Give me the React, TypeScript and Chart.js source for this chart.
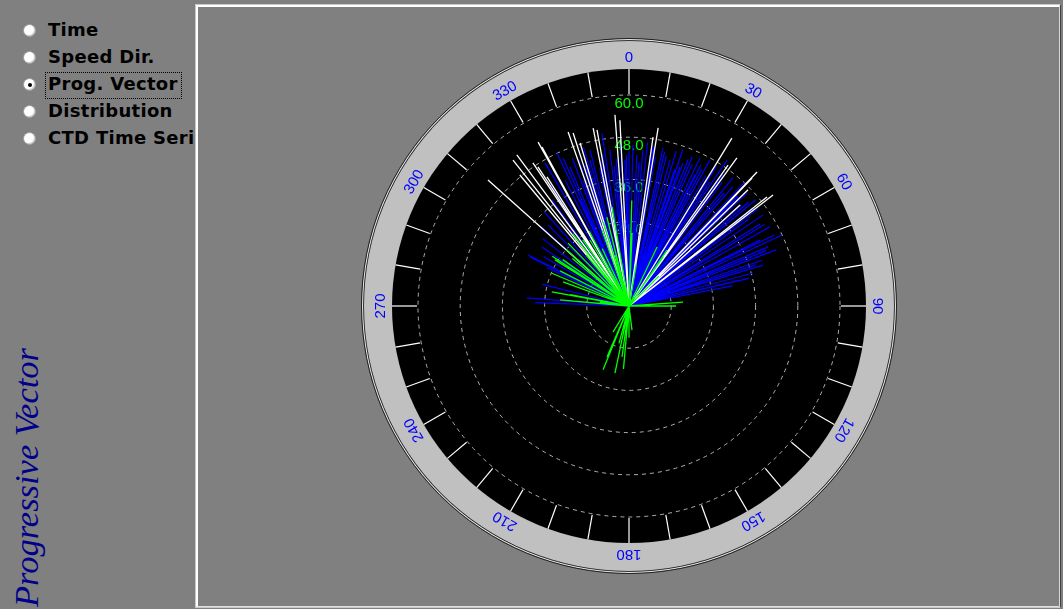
import React, { useEffect, useRef } from "react";
import { Chart, registerables } from "chart.js";

Chart.register(...registerables);

// ---------- data ----------
const compassDirs = [0, 30, 60, 90, 120, 150, 180, 210, 240, 270, 300, 330];
const compassLabels = ["0", "30", "60", "90", "120", "150", "180", "210", "240", "270", "300", "330"];
const radialTicks = [12, 24, 36, 48, 60];
const radialTickLabels = ["12.0", "24.0", "36.0", "48.0", "60.0"];
const radialMax = 75.07;

const whiteDir = [311.8, 321.5, 323.4, 320.2, 326.1, 326.8, 327.6, 331.0, 331.3, 340.7, 342.1, 343.3, 348.6, 349.7, 355.8, 357.2, 9.3, 8.1, 31.5, 36.1, 35.1, 43.7, 43.9, 45.7, 47.7, 52.4, 51.7];
const whiteSpeed = [53.8, 53.0, 53.5, 48.5, 49.0, 47.3, 43.5, 53.3, 51.5, 52.4, 51.7, 48.4, 51.6, 50.9, 54.5, 52.9, 51.3, 48.5, 56.0, 52.1, 49.0, 52.7, 50.5, 47.3, 42.7, 51.7, 50.0];

const blueDir = [274.5, 272, 284, 295, 296.8, 296.3, 300, 304.1, 308, 312, 315, 318, 322.2, 324, 327, 329.6, 331, 333.1, 334.8, 335.2, 337, 339, 340, 342.7, 344, 346, 348, 350, 351.1, 351.1, 353, 355, 357, 358.4, 0, 1.4, 3, 5.1, 6.5, 8.6, 10, 12.1, 14, 15.7, 17, 18.5, 20.1, 20.7, 22, 24, 25.6, 26.7, 28, 29, 30.5, 31.7, 33, 33.9, 35.5, 37, 39, 41, 43, 44.5, 46.2, 48, 50, 52, 54, 55.8, 58, 60.7, 63.3, 65.1, 67, 69.1, 71, 73, 75.1, 76.8, 79,
  336, 341, 345, 349, 354, 359, 4, 9, 13, 19, 23, 27, 32, 36, 40, 45, 49, 53, 59, 64, 68, 72, 77];
const blueSpeed = [29.1, 26.7, 25.4, 25.7, 32.2, 31.4, 28, 29.9, 31, 34, 32.6, 36, 27.4, 37.3, 41, 47.2, 44, 40, 48.1, 33.2, 43, 45, 38, 42, 47, 45.7, 40, 44, 47.8, 49.8, 44.7, 42, 46, 41.5, 44, 45.8, 43, 44.5, 47, 45.7, 43, 46, 44, 43.1, 46, 41, 42.1, 43.5, 45, 44, 46.7, 41.7, 44, 47.5, 43, 45.4, 42, 50, 46, 44, 47, 45, 48, 44, 46.5, 43, 47, 45, 42, 46.1, 44, 46, 41.7, 48, 43, 44.7, 40, 39.8, 36.5, 32.4, 30,
  46, 44, 43, 42, 40, 43, 41, 46, 45, 47, 46, 45, 47, 43, 42, 44, 45, 46, 45, 46, 42, 38, 35];

const greenDir = [315.9, 301.9, 280.3, 275, 281, 290, 297, 305, 310, 320, 325, 329.4, 335, 340.4, 346, 350.3, 345, 1.5, 2.4, 10, 25.4, 34.2, 34.8, 45, 85.8, 90, 277.9, 310, 172.9, 211.6, 187.8, 191.8, 202.1, 203.3, 195, 180,
  293, 303, 312, 322, 332, 343, 185];
const greenSpeed = [24.9, 24.8, 22.3, 19.7, 17, 20, 22, 23, 21, 19, 23, 21.8, 18, 22.9, 26, 28.6, 15, 30, 20.8, 12, 18.6, 19.2, 17, 12, 15.4, 13.4, 8.3, 7.1, 6.9, 8.7, 14.6, 19.5, 19.6, 15.8, 11, 9,
  24, 26, 24, 26, 24, 25, 18];

const radioOptions = ["Time", "Speed Dir.", "Prog. Vector", "Distribution", "CTD Time Series"];
const selectedOption = 2;
const sideTitle = "Progressive Vector";

// ---------- helpers ----------
function vectors(dirs: number[], speeds: number[]) {
  const pts: { x: number; y: number }[] = [];
  dirs.forEach((d, i) => {
    const a = (d * Math.PI) / 180;
    pts.push({ x: 0, y: 0 });
    pts.push({ x: speeds[i] * Math.sin(a), y: speeds[i] * Math.cos(a) });
    pts.push({ x: NaN, y: NaN });
  });
  return pts;
}

const RING_OUTER = 265;
const DISC_R = 237;
const TICK_INNER = 212;
const LABEL_R = 248;

const compassPlugin = {
  id: "compass",
  beforeDatasetsDraw(chart: any) {
    const { ctx } = chart;
    const xs = chart.scales.x;
    const ys = chart.scales.y;
    const cx = xs.getPixelForValue(0);
    const cy = ys.getPixelForValue(0);
    const ppu = xs.getPixelForValue(1) - cx;
    ctx.save();
    // outer ring
    ctx.beginPath();
    ctx.arc(cx, cy, RING_OUTER, 0, Math.PI * 2);
    ctx.fillStyle = "#c0c0c0";
    ctx.fill();
    ctx.lineWidth = 1;
    ctx.strokeStyle = "#303030";
    ctx.beginPath();
    ctx.arc(cx, cy, RING_OUTER + 0.5, 0, Math.PI * 2);
    ctx.stroke();
    ctx.strokeStyle = "#e8e8e8";
    ctx.beginPath();
    ctx.arc(cx, cy, RING_OUTER + 1.5, 0, Math.PI * 2);
    ctx.stroke();
    ctx.strokeStyle = "#202020";
    ctx.beginPath();
    ctx.arc(cx, cy, RING_OUTER + 2.5, 0, Math.PI * 2);
    ctx.stroke();
    // black disc
    ctx.beginPath();
    ctx.arc(cx, cy, DISC_R, 0, Math.PI * 2);
    ctx.fillStyle = "#000000";
    ctx.fill();
    // ticks every 10 degrees
    ctx.strokeStyle = "#ffffff";
    ctx.lineWidth = 1.2;
    for (let d = 0; d < 360; d += 10) {
      const a = (d * Math.PI) / 180;
      ctx.beginPath();
      ctx.moveTo(cx + DISC_R * Math.sin(a), cy - DISC_R * Math.cos(a));
      ctx.lineTo(cx + TICK_INNER * Math.sin(a), cy - TICK_INNER * Math.cos(a));
      ctx.stroke();
    }
    // dashed circles
    ctx.lineWidth = 1;
    ctx.strokeStyle = "#b0b0b0";
    ctx.setLineDash([4, 4]);
    radialTicks.forEach((v) => {
      ctx.beginPath();
      ctx.arc(cx, cy, v * ppu, 0, Math.PI * 2);
      ctx.stroke();
    });
    ctx.setLineDash([]);
    // radial labels
    ctx.fillStyle = "#00ff00";
    ctx.font = '15px "Liberation Sans", Arial, sans-serif';
    ctx.textAlign = "center";
    ctx.textBaseline = "top";
    radialTicks.forEach((v, i) => {
      ctx.fillText(radialTickLabels[i], cx, cy - v * ppu + 1);
    });
    // compass labels
    ctx.fillStyle = "#0000ff";
    ctx.textBaseline = "middle";
    compassDirs.forEach((d, i) => {
      const a = (d * Math.PI) / 180;
      ctx.save();
      ctx.translate(cx + LABEL_R * Math.sin(a), cy - LABEL_R * Math.cos(a));
      ctx.rotate(a);
      ctx.fillText(compassLabels[i], 0, 0);
      ctx.restore();
    });
    ctx.restore();
  },
};

function PolarChart() {
  const ref = useRef<HTMLCanvasElement>(null);
  useEffect(() => {
    if (!ref.current) return;
    const common = {
      showLine: true,
      pointRadius: 0,
      pointHoverRadius: 0,
      spanGaps: false,
      tension: 0,
    };
    const chart = new Chart(ref.current, {
      type: "scatter",
      data: {
        datasets: [
          { ...common, label: "green", data: vectors(greenDir, greenSpeed), borderWidth: 1.3, borderColor: "#00ff00", backgroundColor: "#00ff00" },
          { ...common, label: "white", data: vectors(whiteDir, whiteSpeed), borderWidth: 1.3, borderColor: "#ffffff", backgroundColor: "#ffffff" },
          { ...common, label: "blue", data: vectors(blueDir, blueSpeed), borderWidth: 1.2, borderColor: "#0000ff", backgroundColor: "#0000ff" },
        ],
      },
      options: {
        responsive: false,
        animation: false,
        devicePixelRatio: 1,
        events: [],
        layout: { padding: { left: 365, right: 170, top: 42, bottom: 39 } },
        scales: {
          x: { type: "linear", min: -radialMax, max: radialMax, display: false },
          y: { type: "linear", min: -radialMax, max: radialMax, display: false },
        },
        plugins: { legend: { display: false }, tooltip: { enabled: false } },
      } as any,
      plugins: [compassPlugin],
    } as any);
    return () => chart.destroy();
  }, []);
  return (
    <canvas
      ref={ref}
      width={1063}
      height={609}
      style={{ position: "absolute", left: 0, top: 0, width: 1063, height: 609 }}
    />
  );
}

export default function App() {
  const rowBaseline0 = 37;
  const rowStep = 27;
  return (
    <div
      style={{
        position: "absolute",
        left: 0,
        top: 0,
        width: 1063,
        height: 609,
        background: "#808080",
        overflow: "hidden",
        fontFamily: '"DejaVu Sans", "Liberation Sans", Arial, sans-serif',
      }}
    >
      <div style={{ position: "absolute", left: 0, top: 0, width: 196, height: 609, overflow: "hidden" }}>
        {radioOptions.map((opt, i) => {
          const base = rowBaseline0 + i * rowStep;
          return (
            <React.Fragment key={opt}>
              <div
                style={{
                  position: "absolute",
                  left: 23,
                  top: base - 13,
                  width: 11,
                  height: 11,
                  borderRadius: "50%",
                  background: "#ffffff",
                  border: "1px solid #9a9a9a",
                  boxShadow: "inset -1px -1px 0 #d0d0d0",
                }}
              >
                {i === selectedOption && (
                  <div
                    style={{
                      position: "absolute",
                      left: 3.5,
                      top: 3.5,
                      width: 4,
                      height: 4,
                      borderRadius: "50%",
                      background: "#000",
                    }}
                  />
                )}
              </div>
              <div
                style={{
                  position: "absolute",
                  left: 48,
                  top: base - 19,
                  height: 24,
                  lineHeight: "24px",
                  fontSize: 18,
                  fontWeight: "bold",
                  letterSpacing: 0.3,
                  color: "#000",
                  whiteSpace: "nowrap",
                }}
              >
                {opt}
              </div>
              {i === selectedOption && (
                <div
                  style={{
                    position: "absolute",
                    left: 45,
                    top: base - 19,
                    width: 135,
                    height: 25,
                    border: "1px dotted #000",
                  }}
                />
              )}
            </React.Fragment>
          );
        })}
        <div
          style={{
            position: "absolute",
            left: 9,
            top: 607,
            transform: "rotate(-90deg)",
            transformOrigin: "0 0",
            whiteSpace: "nowrap",
            fontFamily: '"Liberation Serif", "Times New Roman", serif',
            fontStyle: "italic",
            fontSize: 34.5,
            lineHeight: "34px",
            color: "#00008b",
          }}
        >
          {sideTitle}
        </div>
      </div>
      <div
        style={{
          position: "absolute",
          left: 195,
          top: 4,
          width: 866,
          height: 604,
          boxSizing: "border-box",
          borderLeft: "1px solid #c8c8c8",
          borderTop: "1px solid #c8c8c8",
          borderRight: "1px solid #404040",
          borderBottom: "1px solid #c8c8c8",
        }}
      >
        <div
          style={{
            position: "absolute",
            left: 0,
            top: 0,
            right: 0,
            bottom: 0,
            borderLeft: "2px solid #ffffff",
            borderTop: "2px solid #ffffff",
            borderRight: "1px solid #d8d8d8",
            borderBottom: "1px solid #e0e0e0",
          }}
        />
      </div>
      <PolarChart />
    </div>
  );
}
